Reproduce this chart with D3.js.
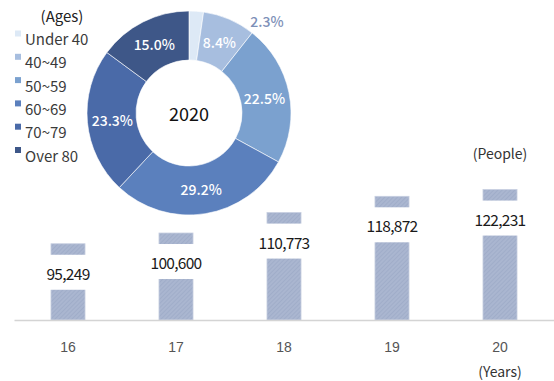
<!DOCTYPE html>
<html><head><meta charset="utf-8">
<script src="https://cdn.jsdelivr.net/npm/d3@7"></script>
<style>body{margin:0;background:#fff;}svg{display:block;font-family:"Noto Sans CJK KR","Noto Sans",sans-serif;}</style>
</head><body><svg id="c" width="554" height="381"></svg>
<script>
const years = ["16","17","18","19","20"];
const people = [95249,100600,110773,118872,122231];
const ageGroups = ["Under 40","40~49","50~59","60~69","70~79","Over 80"];
const agePct = [2.3,8.4,22.5,29.2,23.3,15.0];
const ageColors = ["#dde9f6","#a7bedf","#7ba1cf","#5b80bd","#4a6aa8","#3e5788"];

const svg = d3.select("#c");
const defs = svg.append("defs");
const pat = defs.append("pattern").attr("id","hatch").attr("patternUnits","userSpaceOnUse")
  .attr("width",3).attr("height",3).attr("patternTransform","rotate(45)");
pat.append("rect").attr("width",3).attr("height",3).attr("fill","#aab6d0");
pat.append("line").attr("x1",0).attr("y1",0).attr("x2",0).attr("y2",3).attr("stroke","#97a5c3").attr("stroke-width",1.1);

// bar chart
const x = d3.scaleBand().domain(years).range([14,554]).paddingInner(0.685).paddingOuter(0.3425);
const y = d3.scaleLinear().domain([57300,125000]).range([320,184]);

const g = svg.append("g");
g.selectAll("rect.bar").data(people).join("rect").attr("class","bar")
  .attr("x",(d,i)=>x(years[i])).attr("width",x.bandwidth())
  .attr("y",d=>y(d)).attr("height",d=>320-y(d))
  .attr("fill","url(#hatch)").attr("stroke","#c6cee0").attr("stroke-width",0.8);

g.selectAll("rect.gap").data(people).join("rect").attr("class","gap")
  .attr("x",(d,i)=>x(years[i])-2).attr("width",x.bandwidth()+4)
  .attr("y",d=>y(d)+11).attr("height",35).attr("fill","#fff");

g.selectAll("text.val").data(people).join("text").attr("class","val")
  .attr("x",(d,i)=>x(years[i])+x.bandwidth()/2).attr("y",d=>y(d)+29)
  .attr("text-anchor","middle").attr("dominant-baseline","central")
  .attr("font-size",15.5).attr("letter-spacing",-0.7).attr("fill","#1a1a1a")
  .text(d=>d3.format(",")(d));

const axis = d3.axisBottom(x).tickSize(0).tickPadding(22);
const ax = svg.append("g").attr("transform","translate(0,320)").call(axis);
ax.select(".domain").attr("stroke","#d4d4d4").attr("stroke-width",1.5);
ax.selectAll("text").attr("font-size",14).attr("fill","#555").attr("font-family","inherit");

svg.append("text").attr("x",x("20")+x.bandwidth()/2).attr("y",371).attr("text-anchor","middle")
  .attr("dominant-baseline","central").attr("font-size",14).attr("fill","#333").text("(Years)");
svg.append("text").attr("x",x("20")+x.bandwidth()/2).attr("y",153).attr("text-anchor","middle")
  .attr("dominant-baseline","central").attr("font-size",14).attr("fill","#333").text("(People)");

// donut
const cx=189, cy=113, rOut=102, rIn=53;
const pie = d3.pie().sort(null).value(d=>d);
const arcs = pie(agePct);
const arc = d3.arc().innerRadius(rIn).outerRadius(rOut);
const labelArc = d3.arc().innerRadius(77).outerRadius(77);
const dg = svg.append("g").attr("transform",`translate(${cx},${cy})`);
dg.selectAll("path").data(arcs).join("path").attr("d",arc)
  .attr("fill",(d,i)=>ageColors[i]).attr("stroke","#fff").attr("stroke-width",0.6);
dg.selectAll("text.pct").data(arcs).join("text").attr("class","pct")
  .attr("transform",d=>{
    if(d.data<5) return `translate(${78},${-92})`;
    const c=labelArc.centroid(d); return `translate(${c[0]},${c[1]})`;})
  .attr("text-anchor","middle").attr("dominant-baseline","central")
  .attr("font-size",14).attr("font-weight",500)
  .attr("fill",d=>d.data<5?"#7d90b8":"#fff")
  .text(d=>d.data.toFixed(1)+"%");
dg.append("text").attr("text-anchor","middle").attr("dominant-baseline","central")
  .attr("font-size",18).attr("fill","#111").text("2020");

// legend
svg.append("text").attr("x",62).attr("y",15).attr("text-anchor","middle")
  .attr("dominant-baseline","central").attr("font-size",15).attr("fill","#222").text("(Ages)");
const lg = svg.append("g");
const ly = d3.scalePoint().domain(ageGroups).range([38.5,155]);
lg.selectAll("rect").data(ageGroups).join("rect")
  .attr("x",15).attr("y",d=>ly(d)-8).attr("width",6).attr("height",6)
  .attr("fill",(d,i)=>ageColors[i]);
lg.selectAll("text").data(ageGroups).join("text")
  .attr("x",25).attr("y",d=>ly(d)).attr("dominant-baseline","central")
  .attr("font-size",15).attr("fill","#3a3a3a").text(d=>d);
</script></body></html>
